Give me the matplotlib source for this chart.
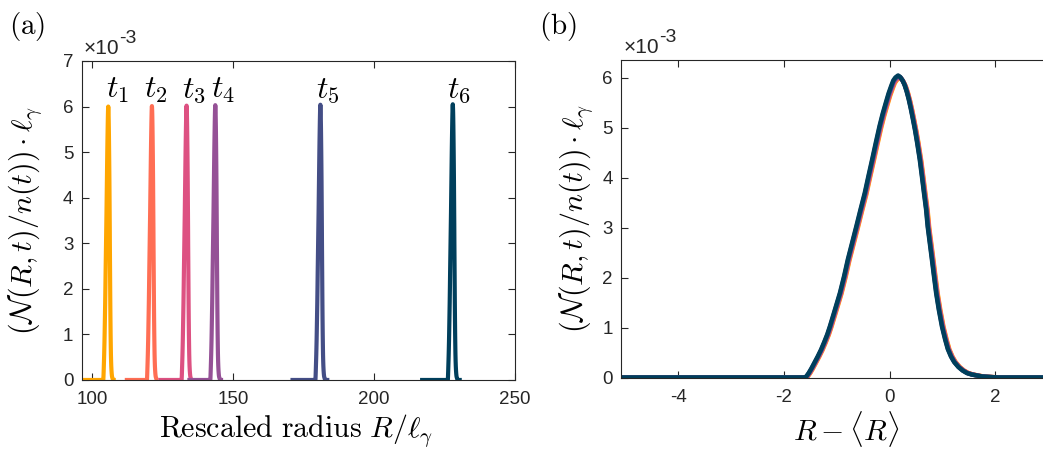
import numpy as np
import matplotlib
matplotlib.use('Agg')
import matplotlib.pyplot as plt

plt.rcParams['font.family'] = ['Liberation Sans', 'DejaVu Sans']
plt.rcParams['mathtext.fontset'] = 'cm'
plt.rcParams['axes.unicode_minus'] = False

# profile: offset from <R> and height (units of 1e-3)
profile_dx = [-1.60, -1.57, -1.53, -1.48, -1.42, -1.36, -1.30, -1.24, -1.18, -1.13,
              -1.05, -0.94, -0.86, -0.79, -0.71, -0.63, -0.55, -0.47, -0.40, -0.33,
              -0.26, -0.19, -0.13, -0.07, -0.02, 0.03, 0.07, 0.11, 0.16, 0.20,
              0.24, 0.28, 0.32, 0.36, 0.40, 0.44, 0.48, 0.52, 0.57, 0.61,
              0.65, 0.69, 0.72, 0.76, 0.80, 0.84, 0.88, 0.93, 0.99, 1.05,
              1.10, 1.16, 1.22, 1.30, 1.38, 1.46, 1.55, 1.65, 1.75, 1.90, 2.05]
profile_y = [0.00, 0.03, 0.09, 0.18, 0.30, 0.42, 0.55, 0.70, 0.86, 1.02,
             1.30, 1.69, 2.03, 2.36, 2.69, 3.02, 3.36, 3.69, 4.03, 4.36,
             4.70, 5.03, 5.28, 5.50, 5.68, 5.83, 5.94, 6.00, 6.04, 6.01,
             5.95, 5.86, 5.73, 5.57, 5.38, 5.17, 4.95, 4.70, 4.36, 4.03,
             3.69, 3.36, 3.02, 2.69, 2.36, 2.02, 1.69, 1.36, 1.02, 0.76,
             0.57, 0.42, 0.31, 0.21, 0.14, 0.09, 0.06, 0.04, 0.02, 0.01, 0.00]

labels = ['$t_1$', '$t_2$', '$t_3$', '$t_4$', '$t_5$', '$t_6$']
colors = ['#ffa600', '#ff6e54', '#dd5182', '#955196', '#444e86', '#003f5c']
mean_R = [105.45, 120.95, 133.25, 143.45, 180.75, 227.75]
R_start = [94.0, 111.5, 123.4, 133.7, 170.3, 216.3]
R_end = [108.3, 123.4, 135.0, 146.4, 184.1, 231.1]
shift = [0.03, 0.024, 0.018, 0.012, 0.006, 0.0]
peak = [6.00, 6.01, 6.02, 6.03, 6.04, 6.05]
label_x = [104.9, 118.4, 131.8, 142.2, 179.5, 226.0]

fig = plt.figure(figsize=(10.43, 4.5), dpi=100)
ax1 = fig.add_axes([0.0783, 0.1556, 0.4155, 0.7089])
ax2 = fig.add_axes([0.5954, 0.1611, 0.4314, 0.7056])

dx = np.array(profile_dx)
py = np.array(profile_y)
for i in range(6):
    x = np.concatenate([[R_start[i]], mean_R[i] + shift[i] + dx, [R_end[i]]])
    y = np.concatenate([[0], py * peak[i] / 6.04, [0]])
    keep = x <= R_end[i]
    ax1.plot(x[keep], y[keep], color=colors[i], lw=3, solid_capstyle='butt',
             solid_joinstyle='round')
    ax1.text(label_x[i], 6.2, labels[i], fontsize=23, ha='left', va='baseline')
    ax2.plot(x[keep] - mean_R[i], y[keep], color=colors[i], lw=3.2,
             solid_capstyle='butt', solid_joinstyle='round')

ylab = r'$(\mathcal{N}(R,t)/n(t))\cdot\ell_\gamma$'
ax1.set_xlim(96.2, 250)
ax1.set_ylim(0, 7)
ax1.set_xticks([100, 150, 200, 250])
ax1.set_yticks(range(8))
ax1.set_xlabel(r'$\mathrm{Rescaled\ radius}\ R/\ell_\gamma$', fontsize=21.5)
ax1.set_ylabel(ylab, fontsize=21.5)
ax1.yaxis.set_label_coords(-0.085, 0.5)
ax1.xaxis.set_label_coords(0.495, -0.1)

ax2.set_xlim(-5.08, 3.43)
ax2.set_ylim(0, 6.36)
ax2.set_xticks([-4, -2, 0, 2])
ax2.set_yticks(range(7))
ax2.set_xlabel(r'$R-\langle R\rangle$', fontsize=21.5)
ax2.set_ylabel(ylab, fontsize=21.5)
ax2.yaxis.set_label_coords(-0.056, 0.5)
ax2.xaxis.set_label_coords(0.5, -0.1)

for ax in (ax1, ax2):
    ax.tick_params(direction='in', top=True, right=True, length=5, width=0.8,
                   labelsize=13.5, colors='#262626', pad=6)
    ax.tick_params(axis='x', pad=8)
    for s in ax.spines.values():
        s.set_color('#262626')
        s.set_linewidth(0.8)
    t = ax.text(0.005, 1.01, '×10', transform=ax.transAxes,
                fontsize=15, color='#262626', ha='left', va='bottom')
    ax.annotate('-3', xy=(1, 0.55), xycoords=t, fontsize=14, color='#262626',
                ha='left', va='bottom')

fig.text(0.009, 0.978, r'$\mathrm{(a)}$', fontsize=21, va='top', ha='left')
fig.text(0.517, 0.978, r'$\mathrm{(b)}$', fontsize=21, va='top', ha='left')

fig.savefig('out.png', dpi=100)
